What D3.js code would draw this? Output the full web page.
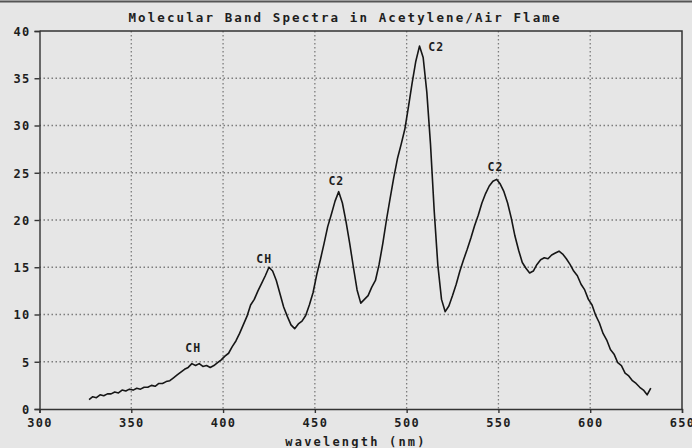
<!DOCTYPE html>
<meta charset="utf-8">
<style>
body { margin: 0; background: #e6e6e6; }
svg { display: block; }
text { font-family: "DejaVu Sans Mono", monospace; font-weight: bold; fill: #1e1e1e; }
.grid line { stroke: #7c7c7c; stroke-width: 1.3; stroke-dasharray: 1.5,2.5; }
.trace { fill: none; stroke: #161616; stroke-width: 1.6; stroke-linejoin: round; }
</style>
<body>
<script src="https://d3js.org/d3.v7.min.js"></script>
<script>

// wavelength samples (nm) and intensity
var wavelengths = [327,329,331,333,335,337,339,341,343,345,347,349,351,353,355,357,359,361,363,365,
  367,369,371,373,375,377,379,381,383,385,387,389,391,393,395,397,399,401,403,405,
  407,409,411,413,415,417,419,421,423,425,427,429,431,433,435,437,439,441,443,445,
  447,449,451,453,455,457,459,461,463,465,467,469,471,473,475,477,479,481,483,485,
  487,489,491,493,495,497,499,501,503,505,507,509,511,513,515,517,519,521,523,525,
  527,529,531,533,535,537,539,541,543,545,547,549,551,553,555,557,559,561,563,565,
  567,569,571,573,575,577,579,581,583,585,587,589,591,593,595,597,599,601,603,605,
  607,609,611,613,615,617,619,621,623,625,627,629,631,633];
var intensity = [1.0,1.3,1.2,1.5,1.4,1.6,1.6,1.8,1.7,2.0,1.9,2.1,2.0,2.2,2.1,2.3,2.3,2.5,2.4,2.7,
  2.7,2.9,3.0,3.3,3.6,3.9,4.2,4.4,4.8,4.6,4.8,4.5,4.6,4.4,4.6,4.9,5.2,5.6,5.9,6.6,
  7.2,8.0,8.9,9.8,11.0,11.6,12.5,13.3,14.1,15.0,14.6,13.6,12.2,10.8,9.8,8.9,8.5,9.0,9.3,9.9,
  11.0,12.3,14.2,15.8,17.5,19.3,20.6,22.0,23.0,21.8,19.8,17.5,15.0,12.6,11.2,11.6,12.0,12.9,13.6,15.3,
  17.5,20.0,22.3,24.5,26.5,28.0,29.6,32.0,34.5,36.8,38.4,37.2,33.5,28.0,21.0,15.2,11.6,10.3,10.9,12.0,
  13.2,14.6,15.8,16.9,18.1,19.4,20.5,21.8,22.8,23.6,24.1,24.3,23.8,23.0,21.8,20.2,18.3,16.8,15.5,14.9,
  14.4,14.6,15.3,15.8,16.0,15.9,16.3,16.5,16.7,16.4,15.9,15.3,14.6,14.1,13.2,12.6,11.6,11.0,9.9,9.1,
  8.0,7.3,6.3,5.8,4.9,4.6,3.8,3.5,3.0,2.7,2.3,2.0,1.5,2.2];

// peak annotations
var peakLabels = ["CH", "CH", "C2", "C2", "C2"];
var peakNm = [383.7, 422.4, 461.7, 511.8, 548.4];
var peakValue = [6.0, 15.5, 23.7, 37.9, 25.2];
var peakAnchor = ["middle", "middle", "middle", "start", "middle"];

var xTicks = [300, 350, 400, 450, 500, 550, 600, 650];
var yTicks = [0, 5, 10, 15, 20, 25, 30, 35, 40];

var W = 692, H = 448;
var margin = {top: 31, right: 10, bottom: 39, left: 39.5};

var x = d3.scaleLinear().domain([300, 650]).range([margin.left, W - margin.right]);
var y = d3.scaleLinear().domain([0, 40]).range([H - margin.bottom, margin.top]);

var svg = d3.select("body").append("svg")
    .attr("width", W)
    .attr("height", H);

// top rule of the screen
svg.append("line")
    .attr("x1", 0).attr("x2", W).attr("y1", 1.5).attr("y2", 1.5)
    .attr("stroke", "#555").attr("stroke-width", 2);

// title
svg.append("text")
    .attr("x", 345).attr("y", 22)
    .attr("text-anchor", "middle")
    .attr("font-size", "12.5px")
    .attr("letter-spacing", "2.1px")
    .text("Molecular Band Spectra in Acetylene/Air Flame");

// grid
var grid = svg.append("g").attr("class", "grid");
grid.selectAll(".vx")
    .data(xTicks.slice(1, -1))
  .enter().append("line")
    .attr("x1", d => x(d)).attr("x2", d => x(d))
    .attr("y1", y(40)).attr("y2", y(0));
grid.selectAll(".hy")
    .data(yTicks.slice(1, -1))
  .enter().append("line")
    .attr("x1", x(300)).attr("x2", x(650))
    .attr("y1", d => y(d)).attr("y2", d => y(d));

// frame top / right
svg.append("path")
    .attr("d", "M" + x(300) + "," + y(40) + "H" + x(650) + "V" + y(0))
    .attr("fill", "none").attr("stroke", "#333").attr("stroke-width", 1.5);

// y axis
var yAxis = svg.append("g")
    .attr("transform", "translate(" + x(300) + ",0)")
    .call(d3.axisLeft(y).tickValues(d3.range(0, 41, 1)).tickSize(3).tickFormat(""));
yAxis.call(d3.axisLeft(y).tickValues(yTicks).tickSize(5).tickFormat(d3.format("d")));
yAxis.selectAll("path, line").attr("stroke", "#333").attr("stroke-width", 1.4);
yAxis.selectAll("text")
    .attr("font-size", "12px").attr("letter-spacing", "1.3px")
    .attr("x", -9).attr("dy", "0.36em")
    .style("font-family", "DejaVu Sans Mono").style("font-weight", "bold").style("fill", "#1e1e1e");

// x axis
var xAxis = svg.append("g")
    .attr("transform", "translate(0," + y(0) + ")")
    .call(d3.axisBottom(x).tickValues(d3.range(300, 651, 10)).tickSize(3).tickFormat(""));
xAxis.call(d3.axisBottom(x).tickValues(xTicks).tickSize(4).tickFormat(d3.format("d")));
xAxis.selectAll("path, line").attr("stroke", "#333").attr("stroke-width", 1.4);
xAxis.selectAll("text")
    .attr("font-size", "12px").attr("letter-spacing", "1.3px")
    .attr("y", 9).attr("dy", "0.71em")
    .style("font-family", "DejaVu Sans Mono").style("font-weight", "bold").style("fill", "#1e1e1e");

svg.append("text")
    .attr("x", 356).attr("y", 446)
    .attr("text-anchor", "middle")
    .attr("font-size", "12px")
    .attr("letter-spacing", "2.2px")
    .text("wavelength (nm)");

// spectrum trace
var line = d3.line()
    .x((d, i) => x(wavelengths[i]))
    .y(d => y(d));
svg.append("path")
    .datum(intensity)
    .attr("class", "trace")
    .attr("d", line);

// peak labels
svg.selectAll(".peak")
    .data(peakLabels)
  .enter().append("text")
    .attr("x", (d, i) => x(peakNm[i]))
    .attr("y", (d, i) => y(peakValue[i]))
    .attr("text-anchor", (d, i) => peakAnchor[i])
    .attr("font-size", "11.5px")
    .attr("letter-spacing", "1px")
    .text(d => d);

</script>
</body>
